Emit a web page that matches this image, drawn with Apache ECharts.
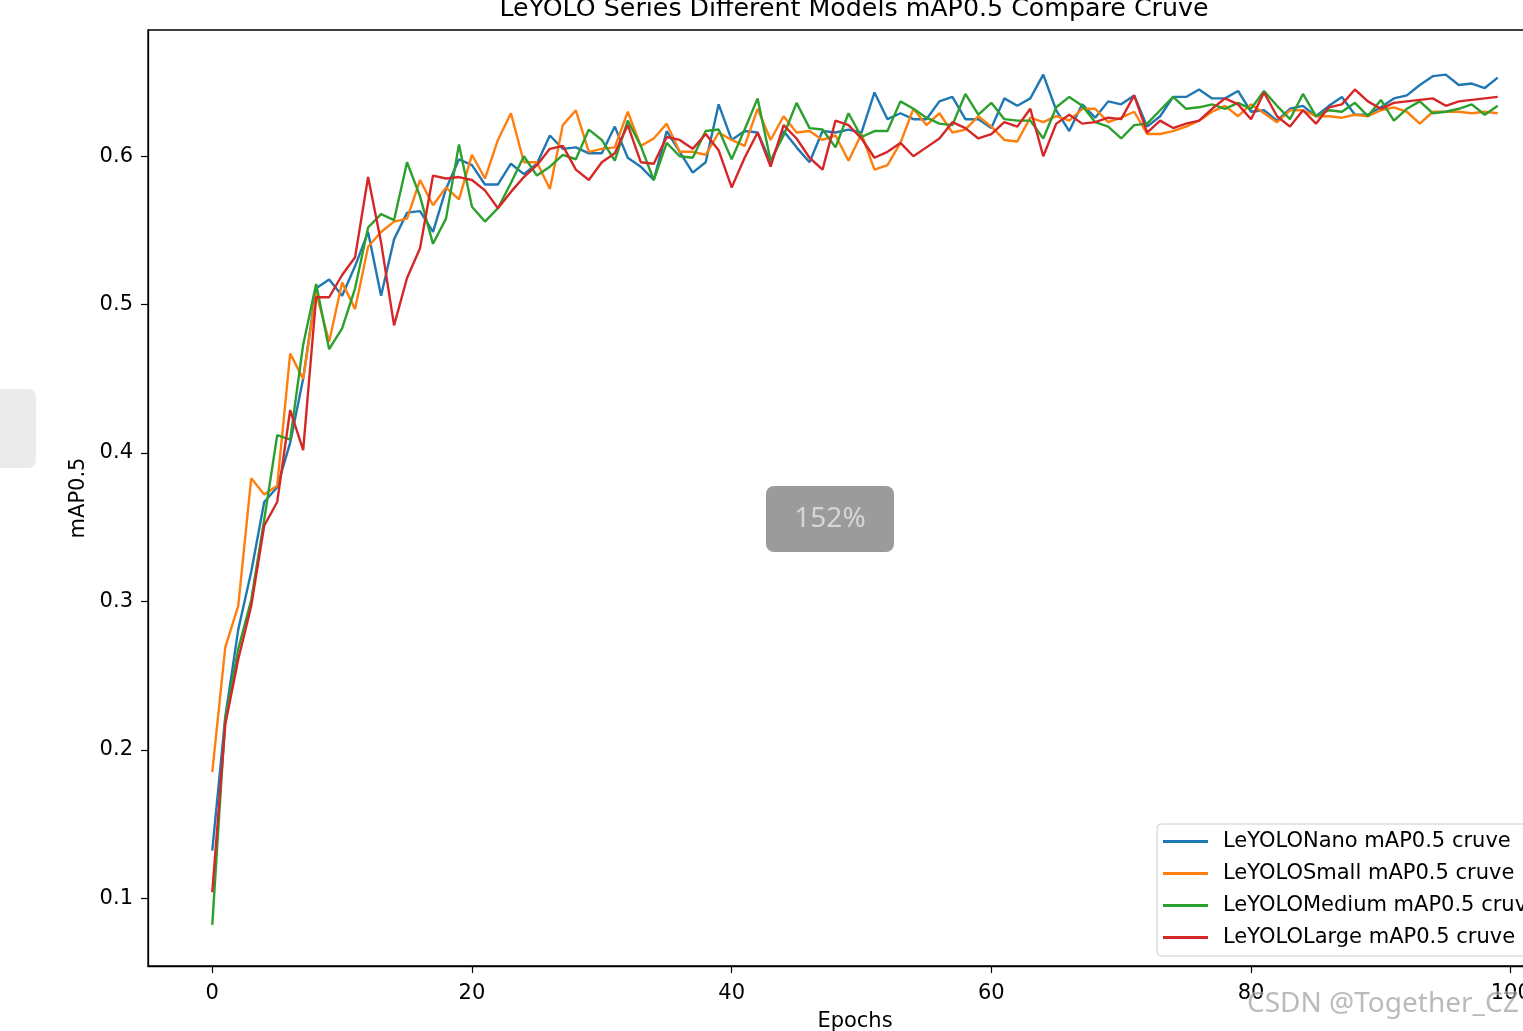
<!DOCTYPE html>
<html>
<head>
<meta charset="utf-8">
<style>
html,body{margin:0;padding:0;background:#fff;}
#chart{width:1523px;height:1031px;}
</style>
<script src="https://cdn.jsdelivr.net/npm/echarts@6/dist/echarts.min.js"></script>
</head>
<body>
<div id="chart"></div>
<script>
const titleText = 'LeYOLO Series Different Models mAP0.5 Compare Cruve';
const xName = 'Epochs';
const yName = 'mAP0.5';
const seriesNames = ['LeYOLONano mAP0.5 cruve','LeYOLOSmall mAP0.5 cruve','LeYOLOMedium mAP0.5 cruve','LeYOLOLarge mAP0.5 cruve'];
const xTicks = [0,20,40,60,80,100];
const yTicks = [0.1,0.2,0.3,0.4,0.5,0.6];

const nano = [0.132,0.222,0.281,0.320,0.367,0.377,0.407,0.450,0.511,0.517,
0.506,0.526,0.549,0.506,0.544,0.562,0.563,0.549,0.578,0.598,
0.594,0.581,0.581,0.595,0.588,0.595,0.614,0.605,0.606,0.602,
0.602,0.620,0.599,0.593,0.584,0.617,0.603,0.589,0.596,0.635,
0.611,0.617,0.616,0.596,0.617,0.606,0.596,0.617,0.616,0.618,
0.616,0.643,0.625,0.629,0.625,0.625,0.637,0.640,0.625,0.625,
0.619,0.639,0.634,0.639,0.655,0.631,0.617,0.635,0.626,0.637,
0.635,0.641,0.620,0.627,0.640,0.640,0.645,0.639,0.639,0.644,
0.630,0.631,0.624,0.632,0.634,0.627,0.634,0.640,0.628,0.628,
0.633,0.639,0.641,0.648,0.654,0.655,0.648,0.649,0.646,0.653];

const small = [0.185,0.269,0.297,0.383,0.372,0.378,0.467,0.450,0.508,0.475,
0.515,0.497,0.539,0.549,0.556,0.558,0.584,0.567,0.579,0.571,
0.601,0.585,0.611,0.629,0.596,0.596,0.578,0.621,0.631,0.603,
0.605,0.606,0.630,0.607,0.612,0.622,0.603,0.603,0.601,0.616,
0.611,0.607,0.632,0.611,0.627,0.616,0.617,0.611,0.614,0.597,
0.615,0.591,0.594,0.609,0.632,0.621,0.629,0.616,0.618,0.627,
0.620,0.611,0.610,0.626,0.623,0.627,0.624,0.632,0.632,0.623,
0.626,0.630,0.615,0.615,0.617,0.620,0.624,0.630,0.634,0.627,
0.635,0.629,0.623,0.631,0.631,0.627,0.627,0.626,0.628,0.627,
0.631,0.633,0.630,0.622,0.630,0.630,0.630,0.629,0.630,0.629];

const medium = [0.082,0.221,0.268,0.301,0.355,0.412,0.409,0.473,0.514,0.470,
0.484,0.511,0.552,0.561,0.557,0.596,0.573,0.541,0.558,0.608,
0.566,0.556,0.565,0.582,0.600,0.587,0.593,0.601,0.598,0.618,
0.611,0.597,0.624,0.607,0.584,0.609,0.600,0.599,0.617,0.618,
0.598,0.618,0.639,0.597,0.614,0.636,0.619,0.618,0.606,0.629,
0.613,0.617,0.617,0.637,0.632,0.626,0.622,0.621,0.642,0.628,
0.636,0.625,0.624,0.624,0.612,0.633,0.640,0.634,0.623,0.620,
0.612,0.621,0.622,0.631,0.640,0.632,0.633,0.635,0.632,0.636,
0.632,0.644,0.634,0.625,0.642,0.627,0.631,0.630,0.636,0.627,
0.638,0.624,0.632,0.637,0.629,0.630,0.632,0.635,0.628,0.634];

const large = [0.104,0.217,0.261,0.297,0.351,0.367,0.429,0.402,0.505,0.505,
0.520,0.532,0.586,0.542,0.486,0.518,0.538,0.587,0.585,0.586,
0.584,0.577,0.565,0.576,0.586,0.594,0.605,0.607,0.591,0.584,
0.596,0.602,0.621,0.596,0.595,0.613,0.611,0.605,0.615,0.604,
0.579,0.599,0.616,0.593,0.621,0.612,0.599,0.591,0.624,0.621,
0.612,0.599,0.603,0.609,0.600,0.606,0.612,0.623,0.619,0.612,
0.615,0.623,0.620,0.632,0.600,0.622,0.628,0.622,0.623,0.626,
0.625,0.641,0.616,0.624,0.619,0.622,0.624,0.632,0.639,0.635,
0.625,0.643,0.627,0.620,0.631,0.622,0.633,0.635,0.645,0.637,
0.632,0.636,0.637,0.638,0.639,0.634,0.637,0.638,0.639,0.640];

const colors = ['#1f77b4','#ff7f0e','#2ca02c','#d62728'];
const epochs = nano.map((_, i) => i);
const allSeries = [nano, small, medium, large];

const FONT = 'DejaVu Sans';
const chart = echarts.init(document.getElementById('chart'), null, {renderer:'canvas'});

chart.setOption({
  animation: false,
  backgroundColor: '#ffffff',
  color: colors,
  grid: {
    left: 148, top: 30, width: 1414, height: 936,
    show: true, borderColor: '#000', borderWidth: 1.3,
    backgroundColor: 'transparent',
    containLabel: false,
    outerBoundsMode: 'none'
  },
  legend: {
    orient: 'vertical',
    left: 1157, top: 824,
    icon: 'rect',
    itemWidth: 45, itemHeight: 3,
    itemGap: 11,
    padding: [7, 8, 8, 6],
    backgroundColor: 'rgba(255,255,255,0.8)',
    borderColor: '#cccccc', borderWidth: 1, borderRadius: 4,
    textStyle: {fontFamily: FONT, fontSize: 21, color: '#000', padding: [0,0,0,10]},
    data: seriesNames
  },
  xAxis: {
    type: 'value',
    min: -4.95, max: 103.95,
    name: xName, nameLocation: 'middle', nameGap: 45,
    nameTextStyle: {fontFamily: FONT, fontSize: 21, color: '#000'},
    axisLine: {show: true, onZero: false, lineStyle: {color: '#000', width: 1.3}},
    axisTick: {show: true, customValues: xTicks, length: 7, lineStyle: {color: '#000', width: 1.2}},
    axisLabel: {show: true, customValues: xTicks, margin: 17, fontFamily: FONT, fontSize: 21, color: '#000', formatter: v => String(v)},
    splitLine: {show: false}
  },
  yAxis: {
    type: 'value',
    min: 0.0543, max: 0.6851,
    name: yName, nameLocation: 'middle', nameGap: 56,
    nameTextStyle: {fontFamily: FONT, fontSize: 21, color: '#000'},
    axisLine: {show: true, onZero: false, lineStyle: {color: '#000', width: 1.3}},
    axisTick: {show: true, customValues: yTicks, length: 7, lineStyle: {color: '#000', width: 1.2}},
    axisLabel: {show: true, customValues: yTicks, margin: 15, fontFamily: FONT, fontSize: 21, color: '#000', formatter: v => v.toFixed(1)},
    splitLine: {show: false}
  },
  series: allSeries.map((arr, k) => ({
    name: seriesNames[k],
    type: 'line',
    data: epochs.map((e, i) => [e, arr[i]]),
    showSymbol: false,
    symbol: 'none',
    lineStyle: {width: 2.4, color: colors[k]},
    itemStyle: {color: colors[k]},
    emphasis: {disabled: true},
    clip: true
  })),
  graphic: [
    {type: 'text', x: 854, y: 9, style: {text: titleText, font: '25.3px "DejaVu Sans"', fill: '#000', textAlign: 'center', textVerticalAlign: 'middle'}},
    {type: 'rect', shape: {x: -12, y: 389, width: 48, height: 79, r: 8}, style: {fill: '#ebebeb'}},
    {type: 'rect', shape: {x: 766, y: 486, width: 128, height: 66, r: 8}, style: {fill: '#9b9b9c'}},
    {type: 'text', x: 830, y: 519, style: {text: '152%', font: '28px "Noto Sans"', fill: '#d6d6d6', textAlign: 'center', textVerticalAlign: 'middle'}},
    {type: 'text', x: 1247, y: 1004, z: 100, style: {text: 'CSDN @Together_CZ', font: '28px "Noto Sans"', fill: 'rgba(140,140,140,0.6)', stroke: 'rgba(255,255,255,0.6)', lineWidth: 1, textAlign: 'left', textVerticalAlign: 'middle'}}
  ]
});
</script>
</body>
</html>
